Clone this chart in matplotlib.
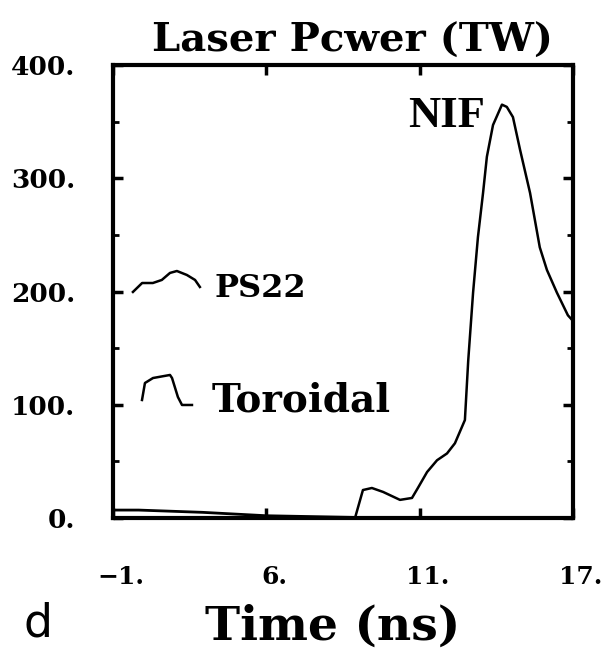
import matplotlib
matplotlib.use("Agg")
import matplotlib.pyplot as plt
import matplotlib.transforms as mtransforms
from matplotlib.ticker import MultipleLocator

# ---- data ----
nif_time = [8.47, 8.78, 9.13, 9.57, 10.23, 10.7, 10.93, 11.29, 11.68, 12.07, 12.38,
            12.77, 12.9, 13.09, 13.28, 13.48, 13.63, 13.87, 14.22, 14.41, 14.65,
            14.93, 15.32, 15.7, 15.98, 16.37, 16.8, 16.96]
nif_power = [0, 24.7, 26.5, 23, 16, 17.7, 26.5, 40.6, 51, 57, 66,
             86.5, 139, 199, 248, 287, 319, 347, 365, 363, 354,
             325, 287, 239, 219, 199, 179, 175]

foot_time = [-1.0, 0.0, 2.5, 5.0, 8.47]
foot_power = [7, 7, 5, 2, 0.5]

# legend glyph shapes (time, power)
ps22_icon_t = [-0.22, 0.14, 0.56, 0.91, 1.23, 1.50, 1.89, 2.21, 2.40]
ps22_icon_p = [199.6, 207.5, 207.5, 210.2, 216.4, 218.1, 214.6, 210.2, 204.0]
tor_icon_t = [0.135, 0.25, 0.565, 1.23, 1.31, 1.54, 1.70, 2.09]
tor_icon_p = [104.2, 119.2, 123.6, 126.3, 123.6, 106.8, 99.8, 99.8]

xticks = [-1, 5, 11, 17]
xtick_labels = ["\u22121.", "6.", "11.", "17."]
yticks = [0, 100, 200, 300, 400]
ytick_labels = ["0.", "100.", "200.", "300.", "400."]

serif = "DejaVu Serif"

fig = plt.figure(figsize=(6.02, 6.58), dpi=100)
ax = fig.add_axes([113/602, 1-518/658, 460/602, 453/658])
ax.set_xlim(-1, 17)
ax.set_ylim(0, 400)

ax.plot(nif_time, nif_power, color="black", lw=1.8, solid_joinstyle="round")
ax.plot(foot_time, foot_power, color="black", lw=2.0)
ax.plot(ps22_icon_t, ps22_icon_p, color="black", lw=1.8)
ax.plot(tor_icon_t, tor_icon_p, color="black", lw=1.8)

ax.text(2.99, 203, "PS22", fontsize=23, family=serif, weight="bold",
        va="center", ha="left")
ax.text(2.87, 104, "Toroidal", fontsize=28, family=serif, weight="bold",
        va="center", ha="left")
ax.text(13.56, 355, "NIF", fontsize=32, family="Liberation Serif", weight="bold",
        va="center", ha="right")

for s in ax.spines.values():
    s.set_linewidth(3.0)

ax.set_xticks(xticks)
ax.set_xticklabels(xtick_labels, family=serif, weight="bold", fontsize=18)
ax.set_yticks(yticks)
ax.set_yticklabels(ytick_labels, family=serif, weight="bold", fontsize=19)
ax.yaxis.set_minor_locator(MultipleLocator(50))
ax.tick_params(axis="both", which="major", direction="in", length=7, width=2.5,
               top=True, right=True)
ax.tick_params(axis="y", which="minor", direction="in", length=4, width=2.0,
               left=True, right=True)
ax.tick_params(axis="x", which="major", pad=34)
ax.tick_params(axis="y", which="major", pad=27)
offset = mtransforms.ScaledTranslation(8/100, 0, fig.dpi_scale_trans)
for lbl in ax.get_xticklabels():
    lbl.set_transform(lbl.get_transform() + offset)

fig.text(353/602, 1-41/658, "Laser Pcwer (TW)", family=serif, weight="bold",
         fontsize=29, ha="center", va="center")
fig.text(333/602, 1-627/658, "Time (ns)", family=serif, weight="bold", fontsize=34,
         ha="center", va="center")
fig.text(38/602, 1-624/658, "d", family="DejaVu Sans", fontsize=33,
         ha="center", va="center")

fig.savefig("out.png", dpi=100)
